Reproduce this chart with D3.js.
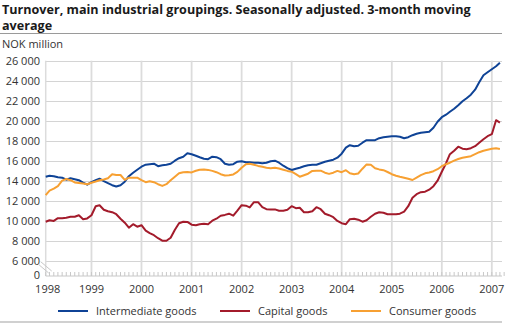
<!DOCTYPE html>
<html>
<head>
<meta charset="utf-8">
<script src="https://cdn.jsdelivr.net/npm/d3@7"></script>
<style>
  body { margin: 0; background: #fff; }
  svg { display: block; font-family: "Open Sans", sans-serif; }
</style>
</head>
<body>
<div id="chart"></div>
<script>
// Monthly series, Feb 1998 - Mar 2007 (NOK million)
const startMonth = new Date(1998, 1, 1);

const intermediate = [
  14400, 14500, 14450, 14350, 14300, 14100, 14250, 14150, 14050, 13800, 13600,
  13850, 14050, 14200, 13950, 13750, 13550, 13420, 13550, 13900, 14450, 14800, 15100,
  15400, 15600, 15650, 15700, 15450, 15550, 15600, 15700, 16000, 16250, 16400, 16750,
  16650, 16500, 16350, 16200, 16150, 16400, 16350, 16150, 15700, 15600, 15650, 15900,
  15950, 15850, 15850, 15800, 15800, 15750, 15800, 15950, 16000, 15800, 15500, 15250,
  15070, 15200, 15300, 15450, 15550, 15600, 15600, 15750, 15900, 16000, 16100, 16300,
  16700, 17300, 17550, 17450, 17500, 17800, 18050, 18050, 18050, 18250, 18350, 18400,
  18450, 18450, 18400, 18250, 18350, 18550, 18700, 18800, 18850, 18900, 19300, 19900,
  20350, 20600, 20900, 21200, 21550, 21950, 22250, 22600, 23100, 23850, 24550, 24850,
  25150, 25450, 25800
];

const capital = [
  9900, 10050, 9980, 10250, 10250, 10300, 10400, 10400, 10550, 10150, 10230,
  10550, 11450, 11550, 11100, 10950, 10850, 10650, 10200, 9800, 9300, 9650, 9400,
  9550, 9000, 8750, 8550, 8250, 8000, 8000, 8300, 9100, 9750, 9900, 9880,
  9600, 9550, 9650, 9700, 9650, 10000, 10200, 10500, 10580, 10700, 10500, 11000,
  11550, 11500, 11330, 11850, 11850, 11350, 11150, 11130, 11130, 11000, 11000, 11100,
  11450, 11250, 11300, 10850, 10850, 10950, 11350, 11150, 10700, 10550, 10350, 9980,
  9750, 9650, 10150, 10200, 10100, 9900, 10050, 10400, 10700, 10850, 10800, 10650,
  10640, 10640, 10700, 10900, 11450, 12300, 12650, 12850, 12900, 13100, 13450, 14000,
  14900, 15750, 16650, 17000, 17400, 17200, 17150, 17250, 17450, 17800, 18150, 18450,
  18650, 20050, 19800
];

const consumer = [
  12550, 13000, 13200, 13450, 14000, 14170, 14050, 13830, 13780, 13720, 13650,
  13800, 13920, 14050, 14120, 14250, 14650, 14580, 14570, 14080, 14300, 14300, 14300,
  14050, 13850, 13950, 13850, 13650, 13480, 13650, 14050, 14400, 14750, 14850, 14880,
  14830, 15000, 15100, 15130, 15080, 14980, 14850, 14650, 14520, 14550, 14630, 14880,
  15300, 15650, 15700, 15600, 15480, 15400, 15300, 15240, 15300, 15220, 15100, 14980,
  14900, 14650, 14400, 14550, 14700, 14980, 15000, 15000, 14800, 14680, 14800, 14980,
  14850, 15050, 14750, 14650, 14720, 15200, 15630, 15600, 15250, 15130, 15050, 14870,
  14650, 14500, 14400, 14300, 14200, 14070, 14300, 14550, 14740, 14820, 14950, 15150,
  15450, 15650, 15800, 16000, 16170, 16300, 16380, 16450, 16650, 16850, 17000, 17100,
  17200, 17240, 17170
];

const seriesNames = ["Intermediate goods", "Capital goods", "Consumer goods"];
const seriesColors = ["#0f4396", "#a31b2b", "#f7a032"];
const yTicks = [6000, 8000, 10000, 12000, 14000, 16000, 18000, 20000, 22000, 24000, 26000];
const yearTicks = [1998, 1999, 2000, 2001, 2002, 2003, 2004, 2005, 2006, 2007];

const months = intermediate.map((d, i) => d3.timeMonth.offset(startMonth, i));
const series = [intermediate, capital, consumer];

const width = 512, height = 323;
const plotLeft = 45.7, plotRight = 502, plotTop = 60.7, gridBottom = 260.7, zeroY = 276;

const svg = d3.select("#chart").append("svg")
  .attr("width", width)
  .attr("height", height);

// title
svg.append("text")
  .attr("x", 2).attr("y", 14)
  .attr("font-size", 12.6).attr("font-weight", "bold").attr("fill", "#1a1a1a")
  .text("Turnover, main industrial groupings. Seasonally adjusted. 3-month moving");
svg.append("text")
  .attr("x", 2).attr("y", 29.5)
  .attr("font-size", 12.6).attr("font-weight", "bold").attr("fill", "#1a1a1a")
  .text("average");
svg.append("line")
  .attr("x1", 0).attr("x2", 502).attr("y1", 33.5).attr("y2", 33.5)
  .attr("stroke", "#9a9a9a");

svg.append("text")
  .attr("x", 2).attr("y", 48)
  .attr("font-size", 11).attr("fill", "#333")
  .text("NOK million");

const x = d3.scaleTime()
  .domain([months[0], months[months.length - 1]])
  .range([plotLeft, 499.9]);

const y = d3.scaleLinear()
  .domain([6000, 26000])
  .range([gridBottom, plotTop]);

const fmt = v => d3.format(",")(v).replace(",", " ");

// horizontal grid
svg.append("g")
  .selectAll("line")
  .data(yTicks)
  .join("line")
  .attr("x1", plotLeft).attr("x2", plotRight)
  .attr("y1", d => Math.round(y(d)) + 0.5).attr("y2", d => Math.round(y(d)) + 0.5)
  .attr("stroke", "#d4d4d4");

// vertical grid at each new year
const yearX = yr => Math.max(plotLeft, x(new Date(yr, 0, 1)));
svg.append("g")
  .selectAll("line")
  .data(yearTicks)
  .join("line")
  .attr("x1", d => yearX(d)).attr("x2", d => yearX(d))
  .attr("y1", plotTop).attr("y2", zeroY)
  .attr("stroke", "#dcdcdc")
  .attr("stroke-width", d => d === 1998 ? 1.5 : 1.8);

// y labels
svg.append("g")
  .selectAll("text")
  .data(yTicks)
  .join("text")
  .attr("x", 40).attr("y", d => y(d) + 4)
  .attr("text-anchor", "end")
  .attr("font-size", 11).attr("fill", "#333")
  .text(fmt);
svg.append("text")
  .attr("x", 40).attr("y", zeroY + 3)
  .attr("text-anchor", "end")
  .attr("font-size", 11).attr("fill", "#333")
  .text("0");

// zero axis with monthly minor ticks
svg.append("line")
  .attr("x1", plotLeft).attr("x2", plotRight)
  .attr("y1", zeroY).attr("y2", zeroY)
  .attr("stroke", "#c8c8c8");
const minor = d3.timeMonth.range(new Date(1998, 1, 1), new Date(2007, 4, 1));
svg.append("g")
  .selectAll("line")
  .data(minor)
  .join("line")
  .attr("x1", d => x(d)).attr("x2", d => x(d))
  .attr("y1", zeroY - 4).attr("y2", zeroY)
  .attr("stroke", "#c8c8c8");

// axis break
svg.append("path")
  .attr("d", `M${plotLeft - 8},${gridBottom + 3} L${plotLeft + 3},${zeroY - 3} M${plotLeft - 5},${gridBottom + 1} L${plotLeft + 6},${zeroY - 5}`)
  .attr("stroke", "#c8c8c8").attr("fill", "none");

// year labels
svg.append("g")
  .selectAll("text")
  .data(yearTicks)
  .join("text")
  .attr("x", d => d === 1998 ? plotLeft + 2 : yearX(d))
  .attr("y", 293)
  .attr("text-anchor", "middle")
  .attr("font-size", 11).attr("fill", "#333")
  .text(d => d);

// series lines
const line = d3.line()
  .x((d, i) => x(months[i]))
  .y(d => y(d));

series.forEach((s, k) => {
  svg.append("path")
    .datum(s)
    .attr("d", line)
    .attr("fill", "none")
    .attr("stroke", seriesColors[k])
    .attr("stroke-width", 2)
    .attr("stroke-linejoin", "round");
});

// legend
const legendX = [58, 220, 351];
const legend = svg.append("g");
seriesNames.forEach((name, k) => {
  legend.append("line")
    .attr("x1", legendX[k]).attr("x2", legendX[k] + 30)
    .attr("y1", 311).attr("y2", 311)
    .attr("stroke", seriesColors[k]).attr("stroke-width", 2);
  legend.append("text")
    .attr("x", legendX[k] + 38).attr("y", 315)
    .attr("font-size", 11).attr("fill", "#333")
    .text(name);
});

// bottom rule
svg.append("rect")
  .attr("x", 0).attr("y", 321).attr("width", 502).attr("height", 2)
  .attr("fill", "#d0d0d0");
</script>
</body>
</html>
